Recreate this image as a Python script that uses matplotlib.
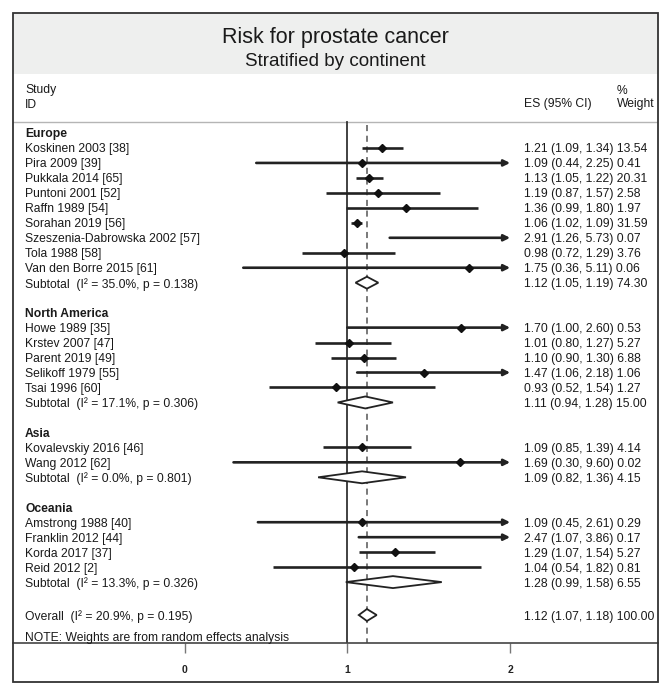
import matplotlib.pyplot as plt
from matplotlib.patches import Rectangle, Polygon
from matplotlib.transforms import blended_transform_factory

plt.rcParams['font.family'] = ['Liberation Sans', 'DejaVu Sans']

# data
groups = ['Europe', 'North America', 'Asia', 'Oceania']
studies = [
    ['Koskinen 2003 [38]', 'Pira 2009 [39]', 'Pukkala 2014 [65]', 'Puntoni 2001 [52]',
     'Raffn 1989 [54]', 'Sorahan 2019 [56]', 'Szeszenia-Dabrowska 2002 [57]',
     'Tola 1988 [58]', 'Van den Borre 2015 [61]'],
    ['Howe 1989 [35]', 'Krstev 2007 [47]', 'Parent 2019 [49]', 'Selikoff 1979 [55]',
     'Tsai 1996 [60]'],
    ['Kovalevskiy 2016 [46]', 'Wang 2012 [62]'],
    ['Amstrong 1988 [40]', 'Franklin 2012 [44]', 'Korda 2017 [37]', 'Reid 2012 [2]'],
]
es = [
    [1.21, 1.09, 1.13, 1.19, 1.36, 1.06, 2.91, 0.98, 1.75],
    [1.70, 1.01, 1.10, 1.47, 0.93],
    [1.09, 1.69],
    [1.09, 2.47, 1.29, 1.04],
]
lo = [
    [1.09, 0.44, 1.05, 0.87, 0.99, 1.02, 1.26, 0.72, 0.36],
    [1.00, 0.80, 0.90, 1.06, 0.52],
    [0.85, 0.30],
    [0.45, 1.07, 1.07, 0.54],
]
hi = [
    [1.34, 2.25, 1.22, 1.57, 1.80, 1.09, 5.73, 1.29, 5.11],
    [2.60, 1.27, 1.30, 2.18, 1.54],
    [1.39, 9.60],
    [2.61, 3.86, 1.54, 1.82],
]
weight = [
    [13.54, 0.41, 20.31, 2.58, 1.97, 31.59, 0.07, 3.76, 0.06],
    [0.53, 5.27, 6.88, 1.06, 1.27],
    [4.14, 0.02],
    [0.29, 0.17, 5.27, 0.81],
]
sub_es = [1.12, 1.11, 1.09, 1.28]
sub_lo = [1.05, 0.94, 0.82, 0.99]
sub_hi = [1.19, 1.28, 1.36, 1.58]
sub_w = [74.30, 15.00, 4.15, 6.55]
sub_i2 = [35.0, 17.1, 0.0, 13.3]
sub_p = [0.138, 0.306, 0.801, 0.326]
overall = (1.12, 1.07, 1.18, 100.00, 20.9, 0.195)
xticks = [0, 1, 2]
xmax = 2.0

W, H = 671, 695
fig = plt.figure(figsize=(W / 100, H / 100), dpi=100)

def fx(p):
    return p / W

def fy(p):
    return 1 - p / H

# layout in pixels
box_l, box_r, box_t, box_b = 12.7, 658, 12.7, 681.7
axis_y = 643.3
row0, row_h = 133.0, 14.97
x0_px, unit_px = 184.7, 162.7

ax = fig.add_axes([fx(box_l), fy(axis_y), fx(box_r) - fx(box_l), fy(box_t) - fy(axis_y)])
ax.set_xlim((box_l - x0_px) / unit_px, (box_r - x0_px) / unit_px)
ax.set_ylim((axis_y - row0) / row_h, (box_t - row0) / row_h)
for s in ['left', 'right', 'top']:
    ax.spines[s].set_visible(False)
ax.spines['bottom'].set_color('#444444')
ax.spines['bottom'].set_linewidth(1.2)
ax.set_yticks([])
ax.set_xticks(xticks)
ax.set_xticklabels([str(t) for t in xticks], fontsize=7.5, fontweight='bold', color='#222222')
ax.tick_params(axis='x', length=7.5, width=1, color='#777777', pad=8)
ax.patch.set_alpha(0)

def row_y(p):
    return (p - row0) / row_h

tr = blended_transform_factory(fig.transFigure, ax.transData)
fs = 8.7
tc = '#1a1a1a'
lc = '#222222'

# frame and title band
fig.patches.append(Rectangle((fx(box_l), fy(74)), fx(box_r) - fx(box_l), fy(box_t) - fy(74),
                             transform=fig.transFigure, facecolor='#eeefee', edgecolor='none', zorder=0))
fig.patches.append(Rectangle((fx(box_l), fy(box_b)), fx(box_r) - fx(box_l), fy(box_t) - fy(box_b),
                             transform=fig.transFigure, facecolor='none', edgecolor='#333333',
                             linewidth=1.3, zorder=5))
fig.text(0.5 * (fx(box_l) + fx(box_r)), fy(43), 'Risk for prostate cancer', ha='center',
         va='baseline', fontsize=15.5, color=tc)
fig.text(0.5 * (fx(box_l) + fx(box_r)), fy(65.5), 'Stratified by continent', ha='center',
         va='baseline', fontsize=13.6, color=tc)

# column headers
ax.text(fx(25), row_y(89), 'Study', transform=tr, fontsize=fs, va='center_baseline', color=tc)
ax.text(fx(25), row_y(103), 'ID', transform=tr, fontsize=fs, va='center_baseline', color=tc)
ax.text(fx(523.7), row_y(103), 'ES (95% CI)', transform=tr, fontsize=fs, va='center_baseline', color=tc)
ax.text(fx(617), row_y(89), '%', transform=tr, fontsize=fs, va='center_baseline', color=tc)
ax.text(fx(617), row_y(103), 'Weight', transform=tr, fontsize=fs, va='center_baseline', color=tc)
ax.axhline(row_y(121.7), color='#b5b5b5', linewidth=1)

# reference lines
ax.plot([1, 1], [row_y(121.7), ax.get_ylim()[0]], color='#333333', linewidth=1.3, zorder=2)
ax.plot([overall[0], overall[0]], [row_y(125), ax.get_ylim()[0]], color='#555555',
        linewidth=1.1, linestyle=(0, (4, 3)), zorder=1)

def value_text(e, l, h, w):
    return f'{e:.2f} ({l:.2f}, {h:.2f}) {w:.2f}'

def diamond(e, l, h, r):
    d = 0.4
    ax.add_patch(Polygon([(l, r), (e, r - d), (h, r), (e, r + d)], closed=True,
                         facecolor='white', edgecolor='#222222', linewidth=1.3, zorder=4))

r = 0
for g in range(len(groups)):
    ax.text(fx(25), r, groups[g], transform=tr, fontsize=fs, fontweight='bold',
            va='center_baseline', color=tc)
    r += 1
    for i in range(len(studies[g])):
        e, l, h = es[g][i], lo[g][i], hi[g][i]
        ax.text(fx(25), r, studies[g][i], transform=tr, fontsize=fs, va='center_baseline', color=tc)
        ax.text(fx(523.7), r, value_text(e, l, h, weight[g][i]), transform=tr, fontsize=fs,
                va='center_baseline', color=tc)
        if h > xmax:
            ax.annotate('', xy=(xmax, r), xytext=(l, r),
                        arrowprops=dict(arrowstyle='-|>', color=lc, lw=1.9, mutation_scale=9,
                                        shrinkA=0, shrinkB=0), zorder=3)
        else:
            ax.plot([l, h], [r, r], color=lc, linewidth=1.9, solid_capstyle='butt', zorder=3)
        if e <= xmax:
            ax.plot(e, r, marker='D', markersize=4.3, color='#111111', zorder=4)
        r += 1
    sub_label = f'Subtotal  (I\u00b2 = {sub_i2[g]:.1f}%, p = {sub_p[g]:.3f})'
    ax.text(fx(25), r, sub_label, transform=tr, fontsize=fs, va='center_baseline', color=tc)
    ax.text(fx(523.7), r, value_text(sub_es[g], sub_lo[g], sub_hi[g], sub_w[g]), transform=tr,
            fontsize=fs, va='center_baseline', color=tc)
    diamond(sub_es[g], sub_lo[g], sub_hi[g], r)
    r += 2

ro = r + 0.2
ov_label = f'Overall  (I\u00b2 = {overall[4]:.1f}%, p = {overall[5]:.3f})'
ax.text(fx(25), ro, ov_label, transform=tr, fontsize=fs, va='center_baseline', color=tc)
ax.text(fx(523.7), ro, value_text(*overall[:4]), transform=tr, fontsize=fs,
        va='center_baseline', color=tc)
diamond(overall[0], overall[1], overall[2], ro)
ax.text(fx(25), row_y(636.7), 'NOTE: Weights are from random effects analysis', transform=tr,
        fontsize=fs, va='center_baseline', color=tc)

fig.savefig('out.png', dpi=100)
